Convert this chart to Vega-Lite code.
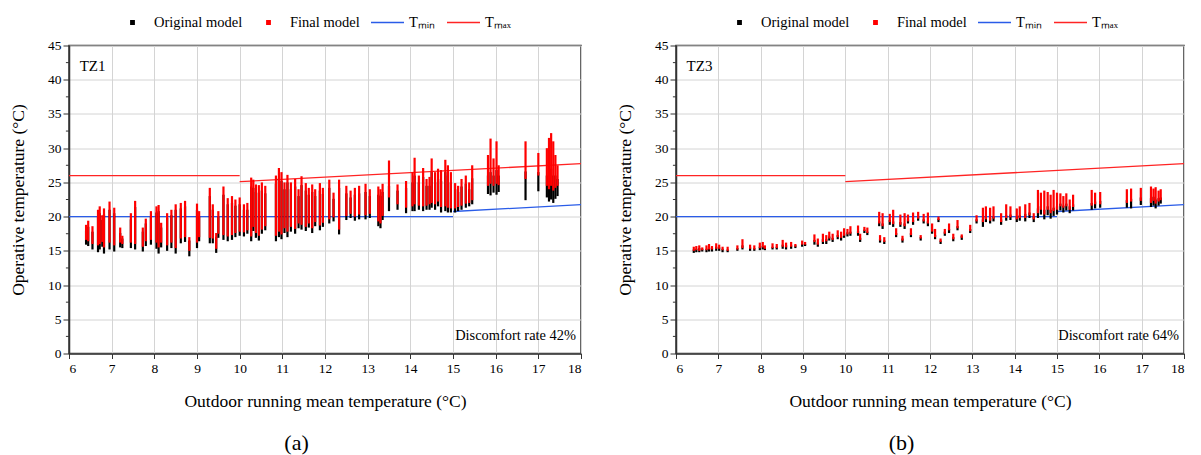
{
  "$schema": "https://vega.github.io/schema/vega-lite/v6.json",
  "background": "white",
  "padding": {"left": 8, "top": 3.5, "right": 6, "bottom": 2},
  "config": {
    "font": "Liberation Serif",
    "view": {"stroke": "#333333", "strokeWidth": 1.5},
    "axis": {
      "labelFont": "Liberation Serif", "labelFontSize": 13.5, "labelColor": "#000",
      "titleFont": "Liberation Serif", "titleFontSize": 17.5, "titleFontWeight": "normal", "titleColor": "#000",
      "domainColor": "#333333", "domainWidth": 1.5, "tickColor": "#333333", "tickWidth": 1,
      "gridColor": "#d4d4d4", "gridWidth": 1, "labelOverlap": false
    },
    "legend": {"padding": 0},
    "title": {"font": "Liberation Serif", "fontSize": 22, "fontWeight": "normal", "color": "#000"}
  },
  "datasets": {
    "strips": [
      {"p":"a","x":6.40,"ol":15.9,"fl":16.6,"fh":18.8,"oh":18.0},
      {"p":"a","x":6.45,"ol":15.7,"fl":16.4,"fh":19.4,"oh":18.5},
      {"p":"a","x":6.55,"ol":15.2,"fl":16.0,"fh":18.6,"oh":17.8},
      {"p":"a","x":6.68,"ol":14.8,"fl":15.8,"fh":21.0,"oh":20.0},
      {"p":"a","x":6.72,"ol":15.2,"fl":16.0,"fh":21.5,"oh":20.5},
      {"p":"a","x":6.78,"ol":15.6,"fl":16.3,"fh":20.2,"oh":19.5},
      {"p":"a","x":6.82,"ol":14.6,"fl":15.5,"fh":21.2,"oh":20.3},
      {"p":"a","x":6.95,"ol":15.2,"fl":16.2,"fh":22.2,"oh":21.0},
      {"p":"a","x":7.06,"ol":14.9,"fl":15.8,"fh":21.3,"oh":20.5},
      {"p":"a","x":7.20,"ol":15.5,"fl":16.2,"fh":18.4,"oh":17.6},
      {"p":"a","x":7.25,"ol":15.4,"fl":16.0,"fh":17.2,"oh":16.8},
      {"p":"a","x":7.45,"ol":15.4,"fl":16.2,"fh":20.5,"oh":19.6},
      {"p":"a","x":7.55,"ol":15.2,"fl":16.0,"fh":22.3,"oh":21.4},
      {"p":"a","x":7.73,"ol":14.9,"fl":15.6,"fh":18.4,"oh":17.8},
      {"p":"a","x":7.80,"ol":15.7,"fl":16.4,"fh":19.7,"oh":19.0},
      {"p":"a","x":7.92,"ol":15.9,"fl":16.6,"fh":20.8,"oh":20.0},
      {"p":"a","x":8.05,"ol":15.3,"fl":16.2,"fh":21.5,"oh":20.6},
      {"p":"a","x":8.10,"ol":14.6,"fl":15.5,"fh":21.7,"oh":20.8},
      {"p":"a","x":8.16,"ol":15.5,"fl":16.2,"fh":19.1,"oh":18.4},
      {"p":"a","x":8.30,"ol":15.0,"fl":15.8,"fh":20.5,"oh":19.8},
      {"p":"a","x":8.40,"ol":15.4,"fl":16.2,"fh":21.0,"oh":20.2},
      {"p":"a","x":8.50,"ol":14.6,"fl":15.4,"fh":21.8,"oh":21.0},
      {"p":"a","x":8.62,"ol":16.1,"fl":16.8,"fh":22.0,"oh":21.2},
      {"p":"a","x":8.72,"ol":16.3,"fl":17.0,"fh":22.3,"oh":21.5},
      {"p":"a","x":8.82,"ol":14.2,"fl":15.0,"fh":17.0,"oh":16.5},
      {"p":"a","x":9.00,"ol":15.4,"fl":16.2,"fh":21.9,"oh":21.0},
      {"p":"a","x":9.05,"ol":16.4,"fl":17.0,"fh":20.8,"oh":20.0},
      {"p":"a","x":9.30,"ol":16.1,"fl":16.9,"fh":24.2,"oh":23.0},
      {"p":"a","x":9.37,"ol":16.1,"fl":16.8,"fh":21.8,"oh":21.0},
      {"p":"a","x":9.45,"ol":14.7,"fl":15.3,"fh":17.6,"oh":17.0},
      {"p":"a","x":9.50,"ol":16.9,"fl":17.5,"fh":20.8,"oh":20.0},
      {"p":"a","x":9.62,"ol":16.6,"fl":17.3,"fh":24.4,"oh":23.2},
      {"p":"a","x":9.72,"ol":16.4,"fl":17.1,"fh":22.7,"oh":21.8},
      {"p":"a","x":9.82,"ol":16.6,"fl":17.3,"fh":23.0,"oh":22.0},
      {"p":"a","x":9.90,"ol":17.0,"fl":17.6,"fh":22.5,"oh":21.6},
      {"p":"a","x":10.00,"ol":17.2,"fl":17.8,"fh":22.8,"oh":21.8},
      {"p":"a","x":10.10,"ol":17.1,"fl":17.7,"fh":21.8,"oh":21.0},
      {"p":"a","x":10.18,"ol":17.5,"fl":18.0,"fh":22.0,"oh":21.0},
      {"p":"a","x":10.27,"ol":16.4,"fl":17.1,"fh":25.7,"oh":24.4},
      {"p":"a","x":10.32,"ol":17.9,"fl":18.5,"fh":25.4,"oh":24.2},
      {"p":"a","x":10.38,"ol":16.9,"fl":17.6,"fh":24.7,"oh":23.6},
      {"p":"a","x":10.45,"ol":16.5,"fl":17.2,"fh":24.6,"oh":23.5},
      {"p":"a","x":10.52,"ol":17.5,"fl":18.1,"fh":25.0,"oh":23.8},
      {"p":"a","x":10.60,"ol":18.0,"fl":18.6,"fh":24.5,"oh":23.4},
      {"p":"a","x":10.85,"ol":16.4,"fl":17.2,"fh":26.0,"oh":24.8},
      {"p":"a","x":10.92,"ol":17.0,"fl":17.8,"fh":27.1,"oh":25.6},
      {"p":"a","x":10.98,"ol":16.7,"fl":17.4,"fh":26.5,"oh":25.2},
      {"p":"a","x":11.05,"ol":17.6,"fl":18.3,"fh":25.0,"oh":24.0},
      {"p":"a","x":11.12,"ol":17.0,"fl":17.8,"fh":26.1,"oh":25.0},
      {"p":"a","x":11.20,"ol":17.8,"fl":18.5,"fh":25.0,"oh":24.0},
      {"p":"a","x":11.30,"ol":17.5,"fl":18.2,"fh":25.5,"oh":24.4},
      {"p":"a","x":11.38,"ol":18.3,"fl":19.0,"fh":24.0,"oh":23.0},
      {"p":"a","x":11.45,"ol":18.1,"fl":18.8,"fh":25.9,"oh":24.6},
      {"p":"a","x":11.55,"ol":17.9,"fl":18.5,"fh":24.9,"oh":23.8},
      {"p":"a","x":11.62,"ol":18.4,"fl":19.0,"fh":24.2,"oh":23.2},
      {"p":"a","x":11.70,"ol":17.6,"fl":18.3,"fh":24.7,"oh":23.6},
      {"p":"a","x":11.77,"ol":18.6,"fl":19.2,"fh":24.0,"oh":23.0},
      {"p":"a","x":11.88,"ol":18.0,"fl":18.7,"fh":24.9,"oh":23.8},
      {"p":"a","x":11.95,"ol":18.5,"fl":19.1,"fh":24.2,"oh":23.3},
      {"p":"a","x":12.10,"ol":19.0,"fl":19.6,"fh":25.4,"oh":24.2},
      {"p":"a","x":12.20,"ol":19.3,"fl":19.9,"fh":23.5,"oh":22.6},
      {"p":"a","x":12.33,"ol":17.4,"fl":18.1,"fh":25.4,"oh":24.2},
      {"p":"a","x":12.50,"ol":19.5,"fl":20.1,"fh":24.5,"oh":23.4},
      {"p":"a","x":12.60,"ol":19.8,"fl":20.4,"fh":23.8,"oh":22.8},
      {"p":"a","x":12.70,"ol":19.4,"fl":20.0,"fh":24.2,"oh":23.2},
      {"p":"a","x":12.80,"ol":19.6,"fl":20.3,"fh":24.5,"oh":23.4},
      {"p":"a","x":12.95,"ol":19.6,"fl":20.2,"fh":24.8,"oh":23.6},
      {"p":"a","x":13.05,"ol":19.8,"fl":20.4,"fh":24.0,"oh":23.0},
      {"p":"a","x":13.25,"ol":18.6,"fl":19.3,"fh":24.4,"oh":23.2},
      {"p":"a","x":13.30,"ol":18.3,"fl":19.0,"fh":24.0,"oh":23.0},
      {"p":"a","x":13.35,"ol":19.5,"fl":20.1,"fh":24.8,"oh":23.6},
      {"p":"a","x":13.50,"ol":20.8,"fl":22.8,"fh":28.2,"oh":24.5},
      {"p":"a","x":13.70,"ol":21.0,"fl":21.8,"fh":24.7,"oh":23.8},
      {"p":"a","x":13.90,"ol":20.5,"fl":21.3,"fh":25.2,"oh":24.2},
      {"p":"a","x":14.05,"ol":20.8,"fl":21.5,"fh":26.5,"oh":25.0},
      {"p":"a","x":14.10,"ol":20.8,"fl":21.8,"fh":28.6,"oh":26.0},
      {"p":"a","x":14.20,"ol":21.0,"fl":21.6,"fh":26.0,"oh":25.0},
      {"p":"a","x":14.30,"ol":20.8,"fl":21.5,"fh":27.1,"oh":25.8},
      {"p":"a","x":14.38,"ol":21.0,"fl":21.6,"fh":25.5,"oh":24.5},
      {"p":"a","x":14.45,"ol":21.0,"fl":21.8,"fh":25.8,"oh":24.5},
      {"p":"a","x":14.50,"ol":21.3,"fl":22.0,"fh":28.5,"oh":26.5},
      {"p":"a","x":14.58,"ol":21.0,"fl":21.8,"fh":26.5,"oh":25.0},
      {"p":"a","x":14.65,"ol":21.5,"fl":22.2,"fh":27.0,"oh":25.5},
      {"p":"a","x":14.72,"ol":20.6,"fl":21.4,"fh":26.8,"oh":25.2},
      {"p":"a","x":14.82,"ol":20.8,"fl":21.5,"fh":28.3,"oh":26.5},
      {"p":"a","x":14.88,"ol":20.6,"fl":21.3,"fh":27.5,"oh":26.0},
      {"p":"a","x":14.95,"ol":20.6,"fl":21.2,"fh":26.5,"oh":25.0},
      {"p":"a","x":15.05,"ol":20.6,"fl":21.2,"fh":24.9,"oh":24.0},
      {"p":"a","x":15.12,"ol":20.8,"fl":21.4,"fh":24.5,"oh":23.6},
      {"p":"a","x":15.20,"ol":21.0,"fl":21.6,"fh":25.5,"oh":24.4},
      {"p":"a","x":15.30,"ol":21.3,"fl":21.9,"fh":26.0,"oh":24.8},
      {"p":"a","x":15.38,"ol":21.5,"fl":22.0,"fh":25.0,"oh":24.0},
      {"p":"a","x":15.45,"ol":21.8,"fl":22.4,"fh":27.5,"oh":25.6},
      {"p":"a","x":15.82,"ol":23.3,"fl":24.5,"fh":29.0,"oh":26.0},
      {"p":"a","x":15.88,"ol":23.1,"fl":24.8,"fh":31.4,"oh":26.5},
      {"p":"a","x":15.95,"ol":23.5,"fl":24.5,"fh":28.5,"oh":26.0},
      {"p":"a","x":16.02,"ol":23.2,"fl":24.8,"fh":31.0,"oh":26.8},
      {"p":"a","x":16.07,"ol":23.6,"fl":24.6,"fh":27.5,"oh":26.0},
      {"p":"a","x":16.70,"ol":22.4,"fl":25.5,"fh":31.0,"oh":26.6},
      {"p":"a","x":17.00,"ol":23.7,"fl":26.0,"fh":29.3,"oh":26.5},
      {"p":"a","x":17.20,"ol":22.8,"fl":24.5,"fh":30.0,"oh":26.0},
      {"p":"a","x":17.25,"ol":22.2,"fl":24.0,"fh":31.5,"oh":26.5},
      {"p":"a","x":17.30,"ol":22.5,"fl":24.5,"fh":32.2,"oh":27.0},
      {"p":"a","x":17.35,"ol":22.0,"fl":23.8,"fh":31.0,"oh":26.0},
      {"p":"a","x":17.40,"ol":22.6,"fl":24.2,"fh":29.0,"oh":26.0},
      {"p":"a","x":17.45,"ol":23.0,"fl":24.5,"fh":27.5,"oh":25.5},

      {"p":"b","x":6.42,"ol":14.7,"fl":15.0,"fh":15.6,"oh":15.2},
      {"p":"b","x":6.48,"ol":14.8,"fl":15.1,"fh":15.7,"oh":15.3},
      {"p":"b","x":6.55,"ol":14.8,"fl":15.0,"fh":15.8,"oh":15.4},
      {"p":"b","x":6.62,"ol":14.9,"fl":15.1,"fh":15.5,"oh":15.3},
      {"p":"b","x":6.72,"ol":14.8,"fl":15.1,"fh":15.8,"oh":15.3},
      {"p":"b","x":6.78,"ol":14.9,"fl":15.2,"fh":16.0,"oh":15.5},
      {"p":"b","x":6.85,"ol":14.9,"fl":15.2,"fh":15.7,"oh":15.4},
      {"p":"b","x":6.95,"ol":15.0,"fl":15.3,"fh":16.1,"oh":15.6},
      {"p":"b","x":7.02,"ol":15.0,"fl":15.3,"fh":15.9,"oh":15.5},
      {"p":"b","x":7.10,"ol":14.8,"fl":15.1,"fh":15.6,"oh":15.3},
      {"p":"b","x":7.22,"ol":14.8,"fl":15.0,"fh":15.6,"oh":15.2},
      {"p":"b","x":7.45,"ol":15.0,"fl":15.2,"fh":15.8,"oh":15.4},
      {"p":"b","x":7.57,"ol":15.2,"fl":15.4,"fh":16.7,"oh":15.8},
      {"p":"b","x":7.75,"ol":15.0,"fl":15.3,"fh":15.9,"oh":15.5},
      {"p":"b","x":7.85,"ol":15.0,"fl":15.2,"fh":15.8,"oh":15.4},
      {"p":"b","x":7.98,"ol":15.1,"fl":15.4,"fh":16.2,"oh":15.6},
      {"p":"b","x":8.05,"ol":15.2,"fl":15.5,"fh":16.3,"oh":15.7},
      {"p":"b","x":8.10,"ol":15.1,"fl":15.3,"fh":15.8,"oh":15.5},
      {"p":"b","x":8.28,"ol":15.2,"fl":15.4,"fh":16.1,"oh":15.6},
      {"p":"b","x":8.38,"ol":15.2,"fl":15.4,"fh":16.0,"oh":15.6},
      {"p":"b","x":8.52,"ol":15.3,"fl":15.6,"fh":16.6,"oh":15.9},
      {"p":"b","x":8.60,"ol":15.2,"fl":15.5,"fh":16.2,"oh":15.8},
      {"p":"b","x":8.72,"ol":15.3,"fl":15.6,"fh":16.3,"oh":15.8},
      {"p":"b","x":8.82,"ol":15.4,"fl":15.6,"fh":16.0,"oh":15.8},
      {"p":"b","x":8.98,"ol":15.6,"fl":15.9,"fh":16.5,"oh":16.0},
      {"p":"b","x":9.05,"ol":15.7,"fl":15.9,"fh":16.3,"oh":16.0},
      {"p":"b","x":9.27,"ol":15.9,"fl":16.3,"fh":17.4,"oh":16.6},
      {"p":"b","x":9.35,"ol":15.6,"fl":15.9,"fh":16.8,"oh":16.2},
      {"p":"b","x":9.47,"ol":16.0,"fl":16.3,"fh":17.5,"oh":16.7},
      {"p":"b","x":9.55,"ol":16.0,"fl":16.4,"fh":17.3,"oh":16.7},
      {"p":"b","x":9.62,"ol":16.5,"fl":16.8,"fh":17.8,"oh":17.1},
      {"p":"b","x":9.70,"ol":16.3,"fl":16.6,"fh":17.5,"oh":16.9},
      {"p":"b","x":9.82,"ol":16.7,"fl":17.0,"fh":18.0,"oh":17.3},
      {"p":"b","x":9.90,"ol":16.5,"fl":16.9,"fh":17.8,"oh":17.2},
      {"p":"b","x":9.97,"ol":16.9,"fl":17.2,"fh":18.3,"oh":17.5},
      {"p":"b","x":10.05,"ol":17.1,"fl":17.4,"fh":18.2,"oh":17.7},
      {"p":"b","x":10.12,"ol":17.2,"fl":17.5,"fh":18.6,"oh":17.8},
      {"p":"b","x":10.30,"ol":17.2,"fl":17.6,"fh":18.7,"oh":17.9},
      {"p":"b","x":10.35,"ol":16.3,"fl":16.6,"fh":17.5,"oh":16.9},
      {"p":"b","x":10.45,"ol":17.6,"fl":17.9,"fh":18.5,"oh":18.1},
      {"p":"b","x":10.52,"ol":17.3,"fl":17.6,"fh":18.4,"oh":17.8},
      {"p":"b","x":10.80,"ol":18.6,"fl":19.0,"fh":20.7,"oh":19.3},
      {"p":"b","x":10.82,"ol":16.2,"fl":16.5,"fh":17.3,"oh":16.7},
      {"p":"b","x":10.88,"ol":18.2,"fl":18.6,"fh":20.5,"oh":19.0},
      {"p":"b","x":10.92,"ol":16.0,"fl":16.3,"fh":17.0,"oh":16.5},
      {"p":"b","x":11.05,"ol":18.8,"fl":19.2,"fh":20.4,"oh":19.5},
      {"p":"b","x":11.13,"ol":18.5,"fl":18.9,"fh":21.0,"oh":19.3},
      {"p":"b","x":11.20,"ol":17.0,"fl":17.3,"fh":18.3,"oh":17.6},
      {"p":"b","x":11.30,"ol":18.5,"fl":18.8,"fh":20.3,"oh":19.2},
      {"p":"b","x":11.35,"ol":16.2,"fl":16.5,"fh":17.2,"oh":16.8},
      {"p":"b","x":11.40,"ol":18.2,"fl":18.6,"fh":20.5,"oh":19.0},
      {"p":"b","x":11.48,"ol":19.0,"fl":19.3,"fh":20.3,"oh":19.6},
      {"p":"b","x":11.55,"ol":17.0,"fl":17.3,"fh":18.3,"oh":17.6},
      {"p":"b","x":11.60,"ol":18.8,"fl":19.2,"fh":20.6,"oh":19.5},
      {"p":"b","x":11.72,"ol":19.4,"fl":19.7,"fh":20.7,"oh":20.0},
      {"p":"b","x":11.78,"ol":16.5,"fl":16.8,"fh":17.3,"oh":17.0},
      {"p":"b","x":11.85,"ol":19.0,"fl":19.3,"fh":20.4,"oh":19.6},
      {"p":"b","x":11.95,"ol":18.6,"fl":19.0,"fh":20.6,"oh":19.3},
      {"p":"b","x":12.05,"ol":17.5,"fl":17.8,"fh":19.0,"oh":18.2},
      {"p":"b","x":12.12,"ol":16.7,"fl":17.0,"fh":18.2,"oh":17.3},
      {"p":"b","x":12.20,"ol":19.2,"fl":19.5,"fh":20.0,"oh":19.7},
      {"p":"b","x":12.25,"ol":16.0,"fl":16.3,"fh":16.8,"oh":16.5},
      {"p":"b","x":12.35,"ol":17.2,"fl":17.5,"fh":18.2,"oh":17.8},
      {"p":"b","x":12.45,"ol":17.6,"fl":18.0,"fh":19.0,"oh":18.2},
      {"p":"b","x":12.55,"ol":16.4,"fl":16.7,"fh":17.5,"oh":17.0},
      {"p":"b","x":12.65,"ol":18.0,"fl":18.3,"fh":19.5,"oh":18.6},
      {"p":"b","x":12.75,"ol":16.6,"fl":16.9,"fh":17.4,"oh":17.2},
      {"p":"b","x":12.95,"ol":17.6,"fl":17.9,"fh":18.8,"oh":18.2},
      {"p":"b","x":13.10,"ol":19.0,"fl":19.3,"fh":20.2,"oh":19.6},
      {"p":"b","x":13.25,"ol":18.5,"fl":19.2,"fh":21.3,"oh":19.6},
      {"p":"b","x":13.32,"ol":19.2,"fl":19.6,"fh":21.5,"oh":20.0},
      {"p":"b","x":13.42,"ol":19.0,"fl":19.4,"fh":21.3,"oh":19.8},
      {"p":"b","x":13.50,"ol":19.3,"fl":19.7,"fh":21.5,"oh":20.0},
      {"p":"b","x":13.68,"ol":18.8,"fl":19.2,"fh":20.5,"oh":19.6},
      {"p":"b","x":13.80,"ol":19.4,"fl":19.8,"fh":21.8,"oh":20.2},
      {"p":"b","x":13.90,"ol":19.5,"fl":19.9,"fh":21.5,"oh":20.3},
      {"p":"b","x":14.05,"ol":19.2,"fl":19.6,"fh":21.2,"oh":20.0},
      {"p":"b","x":14.12,"ol":19.4,"fl":19.8,"fh":21.5,"oh":20.2},
      {"p":"b","x":14.25,"ol":19.3,"fl":19.8,"fh":21.8,"oh":20.4},
      {"p":"b","x":14.35,"ol":19.8,"fl":20.2,"fh":22.0,"oh":20.6},
      {"p":"b","x":14.45,"ol":19.2,"fl":19.6,"fh":20.5,"oh":20.0},
      {"p":"b","x":14.55,"ol":19.8,"fl":20.5,"fh":23.9,"oh":21.2},
      {"p":"b","x":14.62,"ol":20.3,"fl":21.0,"fh":23.5,"oh":21.5},
      {"p":"b","x":14.70,"ol":19.6,"fl":20.3,"fh":23.8,"oh":21.0},
      {"p":"b","x":14.78,"ol":20.2,"fl":21.0,"fh":23.6,"oh":21.5},
      {"p":"b","x":14.85,"ol":19.7,"fl":20.5,"fh":23.2,"oh":21.0},
      {"p":"b","x":14.92,"ol":20.1,"fl":20.8,"fh":23.9,"oh":21.3},
      {"p":"b","x":15.00,"ol":20.3,"fl":21.0,"fh":23.5,"oh":21.5},
      {"p":"b","x":15.08,"ol":20.9,"fl":21.5,"fh":23.4,"oh":21.9},
      {"p":"b","x":15.15,"ol":20.6,"fl":21.3,"fh":23.0,"oh":21.6},
      {"p":"b","x":15.22,"ol":20.9,"fl":21.5,"fh":23.4,"oh":21.9},
      {"p":"b","x":15.30,"ol":20.5,"fl":21.0,"fh":22.5,"oh":21.5},
      {"p":"b","x":15.38,"ol":20.9,"fl":21.4,"fh":23.2,"oh":21.8},
      {"p":"b","x":15.82,"ol":21.0,"fl":21.6,"fh":23.9,"oh":22.0},
      {"p":"b","x":15.90,"ol":21.2,"fl":21.8,"fh":23.5,"oh":22.2},
      {"p":"b","x":16.02,"ol":21.3,"fl":21.8,"fh":23.6,"oh":22.3},
      {"p":"b","x":16.65,"ol":21.3,"fl":22.0,"fh":24.0,"oh":22.4},
      {"p":"b","x":16.75,"ol":21.2,"fl":22.2,"fh":24.1,"oh":22.6},
      {"p":"b","x":16.98,"ol":21.7,"fl":22.3,"fh":24.2,"oh":22.8},
      {"p":"b","x":17.22,"ol":21.4,"fl":22.0,"fh":24.4,"oh":22.7},
      {"p":"b","x":17.28,"ol":21.6,"fl":22.3,"fh":24.1,"oh":22.9},
      {"p":"b","x":17.33,"ol":21.2,"fl":21.9,"fh":24.3,"oh":22.5},
      {"p":"b","x":17.40,"ol":21.6,"fl":22.2,"fh":23.8,"oh":22.7},
      {"p":"b","x":17.45,"ol":21.9,"fl":22.4,"fh":24.0,"oh":22.8}
    ],
    "lines": [
      {"series":"Tₘᵢₙ","seg":"min1","x":6,"t":20},
      {"series":"Tₘᵢₙ","seg":"min1","x":15,"t":20},
      {"series":"Tₘᵢₙ","seg":"min2","x":15,"t":20.75},
      {"series":"Tₘᵢₙ","seg":"min2","x":18,"t":21.74},
      {"series":"Tₘₐₓ","seg":"max1","x":6,"t":26},
      {"series":"Tₘₐₓ","seg":"max1","x":10,"t":26},
      {"series":"Tₘₐₓ","seg":"max2","x":10,"t":25.1},
      {"series":"Tₘₐₓ","seg":"max2","x":18,"t":27.74}
    ],
    "minor": [
      {"v":2.5},{"v":7.5},{"v":12.5},{"v":17.5},{"v":22.5},{"v":27.5},{"v":32.5},{"v":37.5},{"v":42.5}
    ],
    "notes": [
      {"p":"a","x":6.25,"y":42,"label":"TZ1","pos":"tl"},
      {"p":"a","x":17.88,"y":2.6,"label":"Discomfort rate 42%","pos":"br"},
      {"p":"b","x":6.25,"y":42,"label":"TZ3","pos":"tl"},
      {"p":"b","x":17.88,"y":2.6,"label":"Discomfort rate 64%","pos":"br"}
    ]
  },
  "spacing": 30,
  "resolve": {"scale": {"color": "independent"}, "legend": {"color": "independent"}},
  "hconcat": [
    {
      "width": 512, "height": 308,
      "title": {"text": "(a)", "orient": "bottom", "offset": 23, "frame": "bounds", "anchor": "middle"},
      "layer": [
        {
          "data": {"name": "lines"},
          "mark": {"type": "line", "strokeWidth": 1.3},
          "encoding": {
            "x": {"field": "x", "type": "quantitative", "scale": {"domain": [6, 18], "nice": false},
              "axis": {"title": "Outdoor running mean temperature (°C)", "values": [6,7,8,9,10,11,12,13,14,15,16,17,18], "tickSize": 5, "labelPadding": 3, "titlePadding": 17, "grid": true, "labelOverlap": false}},
            "y": {"field": "t", "type": "quantitative", "scale": {"domain": [0, 45], "nice": false},
              "axis": {"title": "Operative temperature (°C)", "values": [0,5,10,15,20,25,30,35,40,45], "labelOverlap": false, "tickSize": 6, "labelPadding": 2, "titlePadding": 20, "grid": true}},
            "detail": {"field": "seg"},
            "color": {"field": "series", "type": "nominal",
              "scale": {"domain": ["Original model", "Final model", "Tₘᵢₙ", "Tₘₐₓ"], "range": ["#000000", "#ff0000", "#2a5ce8", "#ff2424"]},
              "legend": {"orient": "none", "legendX": 46, "legendY": -40.5, "direction": "horizontal", "title": null,
                "labelFont": "Liberation Serif", "labelFontSize": 14.5, "labelColor": "#000", "symbolSize": 1089, "columnPadding": 8, "labelOffset": 4,
                "encode": {"symbols": {"update": {
                  "shape": {"signal": "datum.value == 'Original model' || datum.value == 'Final model' ? 'M-0.1,-0.1H0.1V0.1H-0.1Z' : 'stroke'"},
                  "fill": {"signal": "datum.value == 'Original model' ? '#000000' : datum.value == 'Final model' ? '#ff0000' : 'transparent'"},
                  "stroke": {"signal": "datum.value == 'Tₘᵢₙ' ? '#2a5ce8' : datum.value == 'Tₘₐₓ' ? '#ff2424' : 'transparent'"},
                  "strokeWidth": {"value": 1.5},
                  "opacity": {"value": 1}, "fillOpacity": {"value": 1}, "strokeOpacity": {"value": 1}
                }}}}}
          }
        },
        {
          "data": {"name": "minor"},
          "mark": {"type": "tick", "orient": "horizontal", "size": 3, "thickness": 1, "color": "#333333", "xOffset": -1.6, "opacity": 1},
          "encoding": {
            "x": {"datum": 6, "type": "quantitative",
              "axis": {"title": "Outdoor running mean temperature (°C)", "values": [6,7,8,9,10,11,12,13,14,15,16,17,18], "tickSize": 5, "labelPadding": 3, "titlePadding": 17, "grid": true, "labelOverlap": false}},
            "y": {"field": "v", "type": "quantitative",
              "axis": {"title": "Operative temperature (°C)", "values": [0,5,10,15,20,25,30,35,40,45], "labelOverlap": false, "tickSize": 6, "labelPadding": 2, "titlePadding": 20, "grid": true}}
          }
        },
        {
          "data": {"name": "strips"},
          "transform": [{"filter": "datum.p == 'a'"}],
          "mark": {"type": "rule", "strokeWidth": 2.2},
          "encoding": {
            "x": {"field": "x", "type": "quantitative",
              "axis": {"title": "Outdoor running mean temperature (°C)", "values": [6,7,8,9,10,11,12,13,14,15,16,17,18], "tickSize": 5, "labelPadding": 3, "titlePadding": 17, "grid": true, "labelOverlap": false}},
            "y": {"field": "ol", "type": "quantitative",
              "axis": {"title": "Operative temperature (°C)", "values": [0,5,10,15,20,25,30,35,40,45], "labelOverlap": false, "tickSize": 6, "labelPadding": 2, "titlePadding": 20, "grid": true}},
            "y2": {"field": "oh"},
            "color": {"datum": "Original model"}
          }
        },
        {
          "data": {"name": "strips"},
          "transform": [{"filter": "datum.p == 'a'"}],
          "mark": {"type": "rule", "strokeWidth": 2.2},
          "encoding": {
            "x": {"field": "x", "type": "quantitative",
              "axis": {"title": "Outdoor running mean temperature (°C)", "values": [6,7,8,9,10,11,12,13,14,15,16,17,18], "tickSize": 5, "labelPadding": 3, "titlePadding": 17, "grid": true, "labelOverlap": false}},
            "y": {"field": "fl", "type": "quantitative",
              "axis": {"title": "Operative temperature (°C)", "values": [0,5,10,15,20,25,30,35,40,45], "labelOverlap": false, "tickSize": 6, "labelPadding": 2, "titlePadding": 20, "grid": true}},
            "y2": {"field": "fh"},
            "color": {"datum": "Final model"}
          }
        },
        {
          "data": {"name": "notes"},
          "transform": [{"filter": "datum.p == 'a' && datum.pos == 'tl'"}],
          "mark": {"type": "text", "align": "left", "baseline": "middle", "fontSize": 15, "font": "Liberation Serif", "color": "#000"},
          "encoding": {
            "x": {"field": "x", "type": "quantitative",
              "axis": {"title": "Outdoor running mean temperature (°C)", "values": [6,7,8,9,10,11,12,13,14,15,16,17,18], "tickSize": 5, "labelPadding": 3, "titlePadding": 17, "grid": true, "labelOverlap": false}},
            "y": {"field": "y", "type": "quantitative",
              "axis": {"title": "Operative temperature (°C)", "values": [0,5,10,15,20,25,30,35,40,45], "labelOverlap": false, "tickSize": 6, "labelPadding": 2, "titlePadding": 20, "grid": true}},
            "text": {"field": "label"}
          }
        },
        {
          "data": {"name": "notes"},
          "transform": [{"filter": "datum.p == 'a' && datum.pos == 'br'"}],
          "mark": {"type": "text", "align": "right", "baseline": "middle", "fontSize": 14.4, "font": "Liberation Serif", "color": "#000"},
          "encoding": {
            "x": {"field": "x", "type": "quantitative",
              "axis": {"title": "Outdoor running mean temperature (°C)", "values": [6,7,8,9,10,11,12,13,14,15,16,17,18], "tickSize": 5, "labelPadding": 3, "titlePadding": 17, "grid": true, "labelOverlap": false}},
            "y": {"field": "y", "type": "quantitative",
              "axis": {"title": "Operative temperature (°C)", "values": [0,5,10,15,20,25,30,35,40,45], "labelOverlap": false, "tickSize": 6, "labelPadding": 2, "titlePadding": 20, "grid": true}},
            "text": {"field": "label"}
          }
        }
      ]
    },
    {
      "width": 508, "height": 308,
      "title": {"text": "(b)", "orient": "bottom", "offset": 23, "frame": "bounds", "anchor": "middle"},
      "layer": [
        {
          "data": {"name": "lines"},
          "mark": {"type": "line", "strokeWidth": 1.3},
          "encoding": {
            "x": {"field": "x", "type": "quantitative", "scale": {"domain": [6, 18], "nice": false},
              "axis": {"title": "Outdoor running mean temperature (°C)", "values": [6,7,8,9,10,11,12,13,14,15,16,17,18], "tickSize": 5, "labelPadding": 3, "titlePadding": 17, "grid": true, "labelOverlap": false}},
            "y": {"field": "t", "type": "quantitative", "scale": {"domain": [0, 45], "nice": false},
              "axis": {"title": "Operative temperature (°C)", "values": [0,5,10,15,20,25,30,35,40,45], "labelOverlap": false, "tickSize": 6, "labelPadding": 2, "titlePadding": 20, "grid": true}},
            "detail": {"field": "seg"},
            "color": {"field": "series", "type": "nominal",
              "scale": {"domain": ["Original model", "Final model", "Tₘᵢₙ", "Tₘₐₓ"], "range": ["#000000", "#ff0000", "#2a5ce8", "#ff2424"]},
              "legend": {"orient": "none", "legendX": 46, "legendY": -40.5, "direction": "horizontal", "title": null,
                "labelFont": "Liberation Serif", "labelFontSize": 14.5, "labelColor": "#000", "symbolSize": 1089, "columnPadding": 8, "labelOffset": 4,
                "encode": {"symbols": {"update": {
                  "shape": {"signal": "datum.value == 'Original model' || datum.value == 'Final model' ? 'M-0.1,-0.1H0.1V0.1H-0.1Z' : 'stroke'"},
                  "fill": {"signal": "datum.value == 'Original model' ? '#000000' : datum.value == 'Final model' ? '#ff0000' : 'transparent'"},
                  "stroke": {"signal": "datum.value == 'Tₘᵢₙ' ? '#2a5ce8' : datum.value == 'Tₘₐₓ' ? '#ff2424' : 'transparent'"},
                  "strokeWidth": {"value": 1.5},
                  "opacity": {"value": 1}, "fillOpacity": {"value": 1}, "strokeOpacity": {"value": 1}
                }}}}}
          }
        },
        {
          "data": {"name": "minor"},
          "mark": {"type": "tick", "orient": "horizontal", "size": 3, "thickness": 1, "color": "#333333", "xOffset": -1.6, "opacity": 1},
          "encoding": {
            "x": {"datum": 6, "type": "quantitative",
              "axis": {"title": "Outdoor running mean temperature (°C)", "values": [6,7,8,9,10,11,12,13,14,15,16,17,18], "tickSize": 5, "labelPadding": 3, "titlePadding": 17, "grid": true, "labelOverlap": false}},
            "y": {"field": "v", "type": "quantitative",
              "axis": {"title": "Operative temperature (°C)", "values": [0,5,10,15,20,25,30,35,40,45], "labelOverlap": false, "tickSize": 6, "labelPadding": 2, "titlePadding": 20, "grid": true}}
          }
        },
        {
          "data": {"name": "strips"},
          "transform": [{"filter": "datum.p == 'b'"}],
          "mark": {"type": "rule", "strokeWidth": 2.2},
          "encoding": {
            "x": {"field": "x", "type": "quantitative",
              "axis": {"title": "Outdoor running mean temperature (°C)", "values": [6,7,8,9,10,11,12,13,14,15,16,17,18], "tickSize": 5, "labelPadding": 3, "titlePadding": 17, "grid": true, "labelOverlap": false}},
            "y": {"field": "ol", "type": "quantitative",
              "axis": {"title": "Operative temperature (°C)", "values": [0,5,10,15,20,25,30,35,40,45], "labelOverlap": false, "tickSize": 6, "labelPadding": 2, "titlePadding": 20, "grid": true}},
            "y2": {"field": "oh"},
            "color": {"datum": "Original model"}
          }
        },
        {
          "data": {"name": "strips"},
          "transform": [{"filter": "datum.p == 'b'"}],
          "mark": {"type": "rule", "strokeWidth": 2.2},
          "encoding": {
            "x": {"field": "x", "type": "quantitative",
              "axis": {"title": "Outdoor running mean temperature (°C)", "values": [6,7,8,9,10,11,12,13,14,15,16,17,18], "tickSize": 5, "labelPadding": 3, "titlePadding": 17, "grid": true, "labelOverlap": false}},
            "y": {"field": "fl", "type": "quantitative",
              "axis": {"title": "Operative temperature (°C)", "values": [0,5,10,15,20,25,30,35,40,45], "labelOverlap": false, "tickSize": 6, "labelPadding": 2, "titlePadding": 20, "grid": true}},
            "y2": {"field": "fh"},
            "color": {"datum": "Final model"}
          }
        },
        {
          "data": {"name": "notes"},
          "transform": [{"filter": "datum.p == 'b' && datum.pos == 'tl'"}],
          "mark": {"type": "text", "align": "left", "baseline": "middle", "fontSize": 15, "font": "Liberation Serif", "color": "#000"},
          "encoding": {
            "x": {"field": "x", "type": "quantitative",
              "axis": {"title": "Outdoor running mean temperature (°C)", "values": [6,7,8,9,10,11,12,13,14,15,16,17,18], "tickSize": 5, "labelPadding": 3, "titlePadding": 17, "grid": true, "labelOverlap": false}},
            "y": {"field": "y", "type": "quantitative",
              "axis": {"title": "Operative temperature (°C)", "values": [0,5,10,15,20,25,30,35,40,45], "labelOverlap": false, "tickSize": 6, "labelPadding": 2, "titlePadding": 20, "grid": true}},
            "text": {"field": "label"}
          }
        },
        {
          "data": {"name": "notes"},
          "transform": [{"filter": "datum.p == 'b' && datum.pos == 'br'"}],
          "mark": {"type": "text", "align": "right", "baseline": "middle", "fontSize": 14.4, "font": "Liberation Serif", "color": "#000"},
          "encoding": {
            "x": {"field": "x", "type": "quantitative",
              "axis": {"title": "Outdoor running mean temperature (°C)", "values": [6,7,8,9,10,11,12,13,14,15,16,17,18], "tickSize": 5, "labelPadding": 3, "titlePadding": 17, "grid": true, "labelOverlap": false}},
            "y": {"field": "y", "type": "quantitative",
              "axis": {"title": "Operative temperature (°C)", "values": [0,5,10,15,20,25,30,35,40,45], "labelOverlap": false, "tickSize": 6, "labelPadding": 2, "titlePadding": 20, "grid": true}},
            "text": {"field": "label"}
          }
        }
      ]
    }
  ]
}
